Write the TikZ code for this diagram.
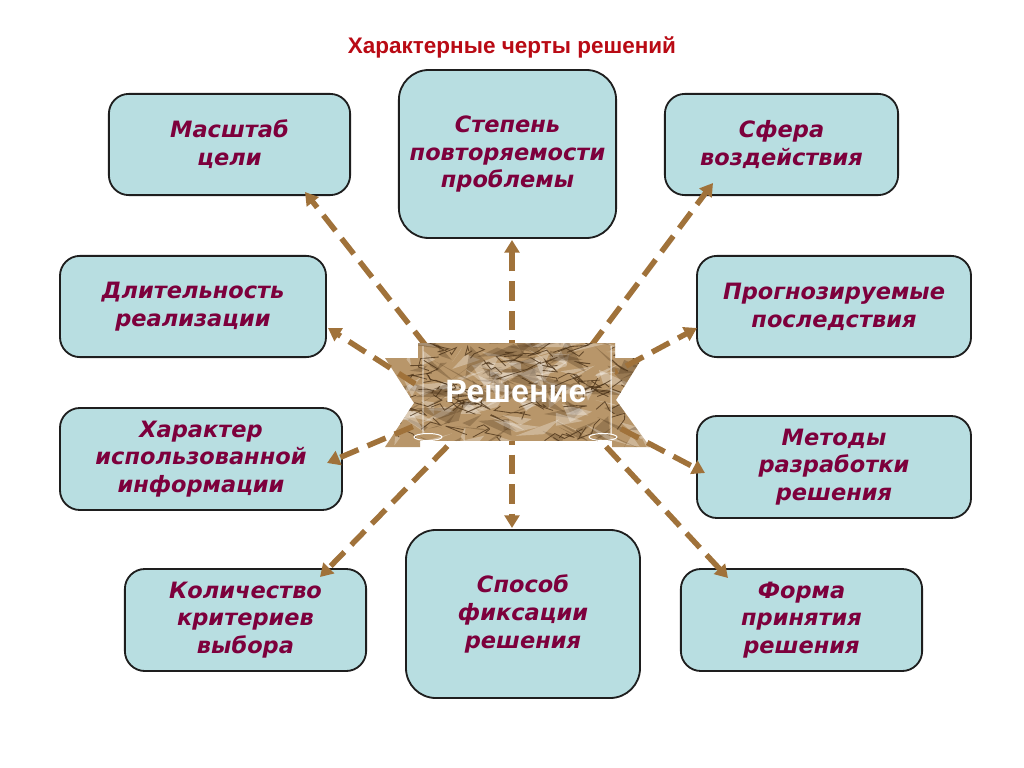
\documentclass[tikz,border=0pt]{standalone}
\usepackage{fontspec}
\setmainfont{Liberation Sans}
\newfontfamily\verd{DejaVu Sans}
\usetikzlibrary{arrows.meta}

\definecolor{boxfill}{RGB}{184,222,225}
\definecolor{boxline}{RGB}{30,30,30}
\definecolor{boxtext}{RGB}{125,0,60}
\definecolor{titlered}{RGB}{185,10,20}
\definecolor{arrowbrown}{RGB}{160,114,58}
\definecolor{paper}{RGB}{184,150,106}
\definecolor{paperdark}{RGB}{72,48,22}

\tikzset{
  feature/.style={draw=boxline, line width=1.3pt, fill=boxfill,
    rounded corners=0.5cm, align=center, text=boxtext, inner sep=0pt,
    font=\verd\bfseries\itshape\fontsize{16}{19.8}\selectfont},
  tall/.style={rounded corners=0.75cm},
  link/.style={draw=arrowbrown, line width=3.9pt,
    dash pattern=on 14pt off 7pt, -{Triangle[length=9pt,width=10.5pt]}},
  crack/.style={paperdark, line width=0.6pt, opacity=0.75},
}

% crumpled paper texture for the banner
\newcommand\crumple{%
  \fill[paper] (380,340) rectangle (655,450);
  \pgfmathsetseed{11}
  \foreach \i in {1,...,110}{
    \pgfmathsetmacro\cx{380+275*rnd}
    \pgfmathsetmacro\cy{340+110*rnd}
    \fill[paperdark, opacity=0.28] (\cx,\cy) -- ++(35*rand,18*rand) -- ++(35*rand,18*rand) -- cycle;
    \fill[white, opacity=0.3] (\cx+12,\cy+6) -- ++(30*rand,15*rand) -- ++(30*rand,15*rand) -- cycle;
  }
  \foreach \i in {1,...,110}{
    \pgfmathsetmacro\cx{380+275*rnd}
    \pgfmathsetmacro\cy{340+110*rnd}
    \draw[crack] (\cx,\cy) -- ++(20*rand,10*rand) -- ++(18*rand,9*rand) -- ++(15*rand,8*rand);
  }
}

\begin{document}
\begin{tikzpicture}[x=0.025cm, y=-0.025cm]
\useasboundingbox (0,0) rectangle (1024,768);

% Title
\node[font=\bfseries\fontsize{16}{19}\selectfont, text=titlered] (title) at (512,47)
{Характерные черты решений};

% Define nodes
\node[feature, minimum width=6.03cm, minimum height=2.53cm] (goal) at (229.5,144.5) {Масштаб\\цели};
\node[feature, tall, minimum width=5.43cm, minimum height=4.2cm] (repeat) at (507.5,154) {Степень\\повторяемости\\проблемы};
\node[feature, minimum width=5.83cm, minimum height=2.53cm] (sphere) at (781.5,144.5) {Сфера\\воздействия};
\node[feature, minimum width=6.65cm, minimum height=2.53cm] (duration) at (193,306.5) {Длительность\\реализации};
\node[feature, minimum width=6.85cm, minimum height=2.53cm] (effects) at (834,306.5) {Прогнозируемые\\последствия};
\node[feature, minimum width=7.05cm, minimum height=2.55cm] (info) at (201,459) {Характер\\использованной\\информации};
\node[feature, minimum width=6.85cm, minimum height=2.55cm] (methods) at (834,467) {Методы\\разработки\\решения};
\node[feature, minimum width=6.03cm, minimum height=2.55cm] (criteria) at (245.5,620) {Количество\\критериев\\выбора};
\node[feature, tall, minimum width=5.85cm, minimum height=4.2cm] (record) at (523,614) {Способ\\фиксации\\решения};
\node[feature, minimum width=6.03cm, minimum height=2.55cm] (form) at (801.5,620) {Форма\\принятия\\решения};

% arrow ends
\path
(445,370) coordinate (s-goal)     (305,192) coordinate (t-goal)
(512,360) coordinate (s-repeat)   (512,240) coordinate (t-repeat)
(573,370) coordinate (s-sphere)   (713,183) coordinate (t-sphere)
(440,400) coordinate (s-duration) (328,328) coordinate (t-duration)
(600,380) coordinate (s-effects)  (697,328) coordinate (t-effects)
(440,415) coordinate (s-info)     (327,463) coordinate (t-info)
(595,415) coordinate (s-methods)  (705,473) coordinate (t-methods)
(468,425) coordinate (s-criteria) (320,577) coordinate (t-criteria)
(512,425) coordinate (s-record)   (512,528) coordinate (t-record)
(586,425) coordinate (s-form)     (728,578) coordinate (t-form)
;

% Banner wings
\begin{scope}
\clip (385,358) -- (420,358) -- (420,447) -- (385,447) -- (414,403) -- cycle
      (612,358) -- (642,358) -- (616,400) -- (650,447) -- (612,447) -- cycle;
\crumple
\end{scope}

\foreach \f in {goal,repeat,sphere,duration,effects,info,methods,criteria,record,form}
  \draw[link] (s-\f) -- (t-\f);

% Banner panel
\begin{scope}
\clip (418,343) rectangle (615,440);
\crumple
\end{scope}
\draw[white, line width=0.7pt]
(423,346) -- (423,434)
(611,346) -- (611,434)
(428,437) ellipse [x radius=14, y radius=3.5]
(603,437) ellipse [x radius=14, y radius=3.5];

\node[text=white, font=\bfseries\fontsize{23}{26}\selectfont] (sol) at (516,392) {Решение};

\end{tikzpicture}
\end{document}
